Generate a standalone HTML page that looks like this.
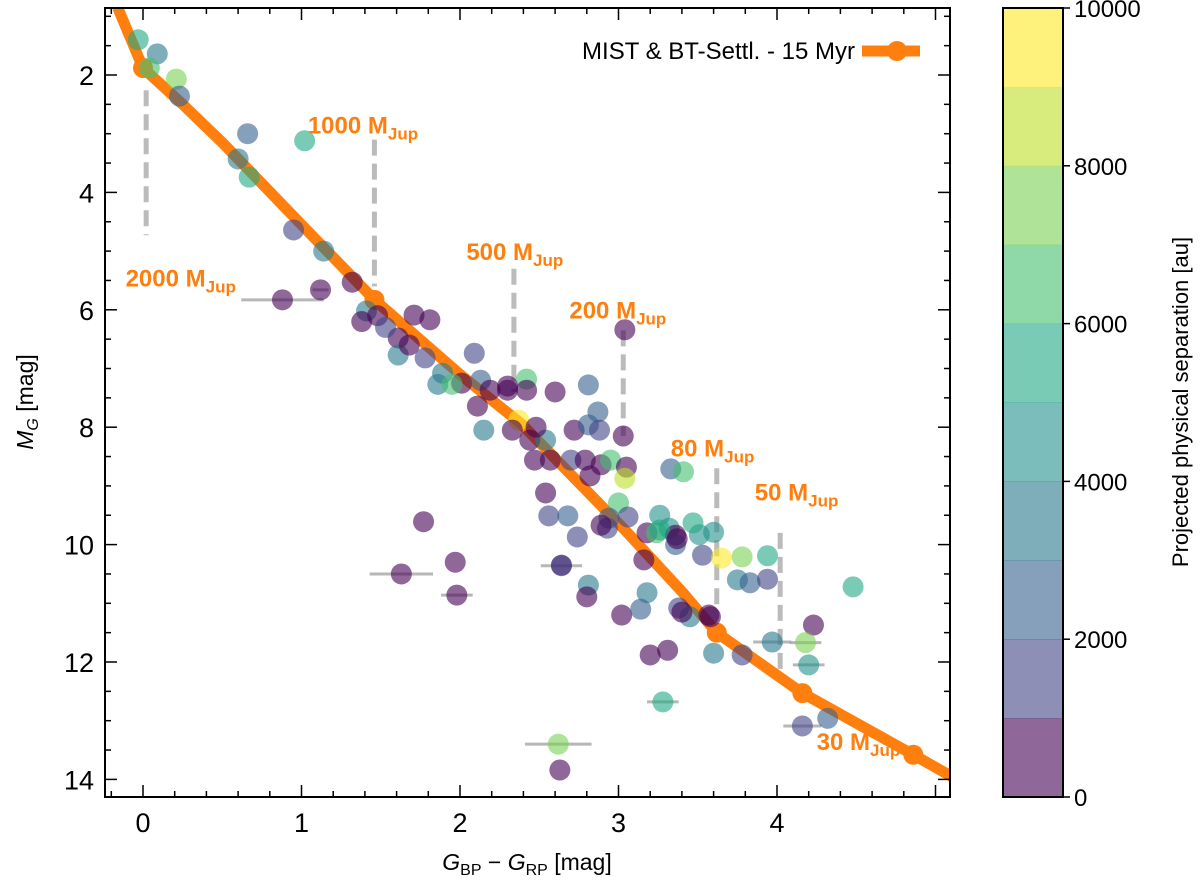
<!DOCTYPE html>
<html><head><meta charset="utf-8"><style>
body{margin:0;background:#fff;}
svg{display:block;font-family:"Liberation Sans",sans-serif;}
</style></head><body>
<svg id="c" width="1200" height="889"></svg>
<script>
const isoX=[-0.16,0,0.25,0.5,0.75,1.0,1.46,2.0,2.39,3.04,3.4,3.62,4.16,4.86,5.2];
const isoY=[0.85,1.88,2.5,3.15,3.85,4.55,5.83,7.1,7.95,9.75,10.8,11.5,12.53,13.58,14.1];
const nodeX=[0,1.46,3.62,4.16,4.86];
const nodeY=[1.88,5.83,11.5,12.53,13.58];
const starX=[-0.03,0.09,0.04,0.21,0.23,0.66,1.02,0.60,0.67,0.95,1.14,1.32,1.12,0.88,1.41,1.38,1.71,1.81,1.61,1.61,1.68,1.78,1.89,2.09,1.86,2.01,1.95,2.13,2.19,2.11,2.15,2.30,2.42,2.42,2.37,2.33,2.44,2.54,2.47,2.57,2.54,2.56,2.68,2.64,2.70,2.72,2.79,2.81,2.87,2.81,2.88,2.82,2.89,2.95,3.05,3.04,3.00,3.06,3.04,3.03,2.94,2.93,2.89,3.18,3.24,3.32,3.36,3.36,3.51,3.16,3.33,3.41,3.26,3.26,3.37,3.47,3.60,3.53,3.65,3.78,3.94,3.75,3.83,3.94,4.48,3.38,3.45,3.58,3.20,3.31,3.60,3.78,3.97,4.23,4.18,4.20,4.16,4.32,3.28,1.77,1.97,1.98,2.64,1.63,2.74,2.81,2.80,3.02,3.18,3.14,3.40,3.57,2.63,2.62,2.48,1.48,1.53,2.30,2.60];
const starY=[1.40,1.64,1.88,2.07,2.36,3.0,3.12,3.43,3.74,4.64,5.0,5.53,5.66,5.83,6.02,6.2,6.09,6.17,6.48,6.77,6.6,6.82,7.08,6.74,7.27,7.25,7.27,7.2,7.37,7.64,8.05,7.37,7.18,7.37,7.88,8.05,8.22,8.22,8.56,8.56,9.12,9.51,9.51,10.35,8.56,8.05,8.56,7.96,7.74,7.28,8.05,8.83,8.64,8.56,8.68,8.87,9.29,9.53,6.34,8.15,9.55,9.72,9.67,9.8,9.8,9.72,9.84,10.0,9.83,10.26,8.71,8.76,9.50,9.75,9.9,9.63,9.79,10.18,10.23,10.21,10.19,10.60,10.65,10.59,10.72,11.08,11.23,11.23,11.88,11.80,11.85,11.88,11.66,11.37,11.67,12.05,13.09,12.96,12.68,9.61,10.30,10.86,10.36,10.5,9.87,10.69,10.89,11.2,10.82,11.1,11.15,11.2,13.84,13.4,8.0,6.1,6.3,7.3,7.4];
const starSep=[5000,3500,6500,7000,2500,2500,5500,3500,5500,1500,3000,500,700,700,3000,500,700,700,500,3500,500,1500,3500,1500,3500,500,6500,2500,500,700,3500,500,6500,500,9500,500,500,3500,700,700,700,1500,2500,700,1500,500,500,2500,2500,2500,1500,700,500,6500,700,8500,6500,1500,700,700,2500,1500,500,500,6000,4000,500,2500,4500,500,2000,6500,4000,5500,500,5500,4500,1500,9500,7500,5000,3000,2500,1500,5500,1500,3000,700,700,700,3500,1500,3500,500,7500,4500,1500,2000,5500,700,700,700,1500,700,1500,3500,700,700,3000,2000,700,700,700,7000,500,500,1500,500,500];
const errIdx=[13,12,101,102,103,92,94,95,96,98,113];
const errW=[0.26,0.05,0.1,0.13,0.2,0.12,0.1,0.1,0.12,0.1,0.21];
const massLabels=["2000","1000 ","500","200","80","50","30"];
const labX=[-0.11,1.04,2.04,2.69,3.33,3.86,4.25];
const labY=[5.6,3.0,5.15,6.15,8.5,9.25,13.5];
const dashX=[0.02,1.46,2.34,3.03,3.62,4.02];
const dashY0=[2.26,3.1,5.3,6.35,8.7,9.8];
const dashY1=[4.73,5.6,7.4,8.15,11.06,12.3];
const cbColors=["#440154","#414487","#355f8d","#2a788e","#21918c","#22a884","#44bf70","#7ad151","#bddf26","#fde725"];
const xTicks=[0,1,2,3,4];
const yTicks=[2,4,6,8,10,12,14];
const cbTicks=[0,2000,4000,6000,8000,10000];

const L=105,R=950,T=8,B=797;
const sx=v=>143+v*158.5, sy=v=>75+(v-2)*58.7;
const svg=document.getElementById('c');const NS='http://www.w3.org/2000/svg';
function mk(t,a,p){const e=document.createElementNS(NS,t);for(const k in a)e.setAttribute(k,a[k]);(p||svg).appendChild(e);return e;}
const defs=mk('defs',{});const cp=mk('clipPath',{id:'cl'},defs);mk('rect',{x:L,y:T,width:R-L,height:B-T},cp);
const g=mk('g',{'clip-path':'url(#cl)'});
dashX.forEach((x,i)=>{const e=mk('line',{x1:sx(x),x2:sx(x),y1:sy(dashY0[i]),y2:sy(dashY1[i]),stroke:'#bbb','stroke-width':5,'stroke-dasharray':'16,8'},g);

});
errIdx.forEach((k,i)=>{const e=mk('line',{x1:sx(starX[k]-errW[i]),x2:sx(starX[k]+errW[i]),y1:sy(starY[k]),y2:sy(starY[k]),stroke:'#999','stroke-width':3,opacity:0.7},g);

});
let d='';isoX.forEach((x,i)=>{d+=(i?'L':'M')+sx(x)+','+sy(isoY[i]);});
const iso=mk('path',{d:d,fill:'none',stroke:'#ff7f0e','stroke-width':11,'stroke-linejoin':'round'},g);


nodeX.forEach((x,i)=>{const e=mk('circle',{cx:sx(x),cy:sy(nodeY[i]),r:10,fill:'#ff7f0e'},g);

});
const col=v=>cbColors[Math.min(9,Math.floor(v/1000))];
starX.forEach((x,i)=>{const e=mk('circle',{cx:sx(x),cy:sy(starY[i]),r:10.5,fill:col(starSep[i]),'fill-opacity':0.6},g);

});
massLabels.forEach((t,i)=>{const e=mk('text',{x:sx(labX[i]),y:sy(labY[i]),fill:'#ff7f0e','font-size':24,'font-weight':'bold'});


e.textContent=t+' M';const s=mk('tspan',{'font-size':17,dy:6},e);s.textContent='Jup';});
const fr=mk('rect',{x:L,y:T,width:R-L,height:B-T,fill:'none',stroke:'#000','stroke-width':2});

for(let v=-0.2;v<=5.01;v+=0.2){const X=sx(v);if(X<L||X>R)continue;const maj=Math.abs(v-Math.round(v))<1e-6;const len=maj?12:6;
mk('line',{x1:X,x2:X,y1:B,y2:B-len,stroke:'#000','stroke-width':1.5});mk('line',{x1:X,x2:X,y1:T,y2:T+len,stroke:'#000','stroke-width':1.5});}
for(let v=1;v<=14.3;v+=0.5){const Y=sy(v);if(Y<T||Y>B)continue;const maj=Math.abs(v/2-Math.round(v/2))<1e-6;const len=maj?12:6;
mk('line',{x1:L,x2:L+len,y1:Y,y2:Y,stroke:'#000','stroke-width':1.5});mk('line',{x1:R,x2:R-len,y1:Y,y2:Y,stroke:'#000','stroke-width':1.5});}
xTicks.forEach(v=>{const e=mk('text',{x:sx(v),y:832,'font-size':27,'text-anchor':'middle'});e.textContent=v;
});
yTicks.forEach(v=>{const e=mk('text',{x:94,y:sy(v)+10,'font-size':27,'text-anchor':'end'});e.textContent=v;
});
const xt=mk('text',{x:527,y:870,'font-size':23,'text-anchor':'middle'});

xt.innerHTML='<tspan font-style="italic">G</tspan><tspan font-size="16" dy="5">BP</tspan><tspan dy="-5"> − </tspan><tspan font-style="italic">G</tspan><tspan font-size="16" dy="5">RP</tspan><tspan dy="-5"> [mag]</tspan>';
const yt=mk('text',{x:0,y:0,'font-size':23,'text-anchor':'middle',transform:'translate(33,402) rotate(-90)'});

yt.innerHTML='<tspan font-style="italic">M</tspan><tspan font-size="16" dy="5" font-style="italic">G</tspan><tspan dy="-5"> [mag]</tspan>';
const lg=mk('g',{});
const lt=mk('text',{x:855,y:59,'font-size':24,'text-anchor':'end'},lg);lt.textContent='MIST & BT-Settl. - 15 Myr';
mk('line',{x1:862,x2:920,y1:51,y2:51,stroke:'#ff7f0e','stroke-width':11},lg);mk('circle',{cx:897,cy:51,r:10,fill:'#ff7f0e'},lg);
const cb=mk('g',{});
const cy=v=>797-v/10000*789;
cbColors.forEach((c,i)=>{mk('rect',{x:1003,y:cy((i+1)*1000),width:60,height:79.4,fill:c,'fill-opacity':0.6},cb);});
mk('rect',{x:1003,y:8,width:60,height:789,fill:'none',stroke:'#000','stroke-width':2},cb);
cbTicks.forEach(v=>{mk('line',{x1:1063,x2:1070,y1:cy(v),y2:cy(v),stroke:'#000','stroke-width':1.5},cb);
const e=mk('text',{x:1074,y:cy(v)+9,'font-size':24},cb);e.textContent=v;
});
const ct=mk('text',{x:0,y:0,'font-size':22,'text-anchor':'middle',transform:'translate(1188,402) rotate(-90)'});
ct.textContent='Projected physical separation [au]';

</script>
</body></html>
